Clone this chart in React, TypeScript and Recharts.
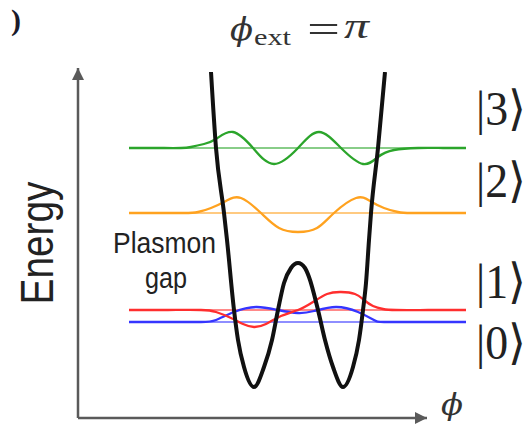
import React from 'react';
import { ComposedChart, Line, XAxis, YAxis } from 'recharts';

// phase (arbitrary units, 0 = centre of the double well) and energy (arbitrary units)
const potentialPhi = [-8.7, -8.2, -7.4, -7.1, -6.4, -6.0, -5.4, -4.4, -3.4, -2.6, -2.0, -1.4, -0.7, 0, 0.7, 1.1, 2.0, 2.7, 3.5, 4.5, 5.5, 6.1, 6.5, 6.8, 7.1, 7.3, 8.0, 8.7];
const potentialE = [34.6, 27.0, 20.5, 17.8, 10.8, 7.8, 5.1, 3.1, 5.1, 7.8, 10.8, 13.5, 15.0, 15.5, 15.0, 14.1, 10.8, 7.8, 5.1, 3.1, 5.1, 7.8, 10.8, 13.5, 17.8, 20.5, 27.0, 34.6];

const levelE = [9.6, 10.8, 20.5, 27.0]; // |0>, |1>, |2>, |3>
const levelPhi = [-16.9, 16.8];

const psi3Phi = [-16.9, -14, -11.7, -10.7, -9.4, -8.2, -6.5, -4.5, -2.4, 0, 2.1, 4.3, 6.5, 8.0, 9.6, 12.0, 14.5, 16.8];
const psi3E = [27.0, 27.0, 27.0, 27.1, 27.4, 27.9, 28.6, 27.0, 25.4, 27.0, 28.6, 27.0, 25.4, 26.1, 26.8, 27.0, 27.0, 27.0];

const psi2Phi = [-16.9, -14, -11.4, -10.0, -8.7, -7.2, -5.7, -3.7, -1.9, 0, 1.9, 3.6, 5.8, 7.2, 8.6, 10.0, 11.3, 14, 16.8];
const psi2E = [20.5, 20.5, 20.5, 20.6, 21.0, 21.7, 22.0, 20.5, 19.0, 18.6, 19.0, 20.5, 22.0, 21.7, 21.0, 20.6, 20.5, 20.5, 20.5];

const psi1Phi = [-16.9, -13, -9.7, -8.2, -6.7, -5.5, -4.4, -3.2, -1.7, 0, 1.5, 2.9, 4.3, 5.7, 6.6, 7.5, 8.5, 9.8, 13, 16.8];
const psi1E = [10.8, 10.8, 10.8, 10.6, 10.0, 9.4, 9.1, 9.4, 10.2, 10.8, 11.6, 12.4, 12.6, 12.4, 11.8, 11.2, 10.9, 10.8, 10.8, 10.8];

const psi0Phi = [-16.9, -13, -9.7, -8.2, -6.4, -4.2, -2.0, 0, 1.6, 3.8, 6.0, 7.6, 8.6, 12, 16.8];
const psi0E = [9.6, 9.6, 9.6, 9.8, 10.6, 11.1, 10.8, 10.5, 10.7, 11.1, 10.6, 9.8, 9.6, 9.6, 9.6];

const kets = ['|0⟩', '|1⟩', '|2⟩', '|3⟩'];
const colors = ['#3535ff', '#ff2e2e', '#ffa21f', '#2ba52b'];

const zip = (phi: number[], e: number[]) => phi.map((p, i) => ({ phi: p, E: e[i] }));

const potential = zip(potentialPhi, potentialE);
const waves = [zip(psi0Phi, psi0E), zip(psi1Phi, psi1E), zip(psi2Phi, psi2E), zip(psi3Phi, psi3E)];

const xAxisLine = [{ phi: -22, E: 0 }, { phi: 12.9, E: 0 }];
const yAxisLine = [{ phi: -22, E: 0 }, { phi: -22, E: 35 }];

const AXIS = '#5a5a5a';

const arrowDot = (dir: 'up' | 'right') => (p: any) => {
  const { cx, cy, index } = p;
  if (index !== 1) return <g key={`a-${dir}-${index}`} />;
  const pts =
    dir === 'up'
      ? `${cx},${cy} ${cx - 6},${cy + 12} ${cx + 6},${cy + 12}`
      : `${cx},${cy} ${cx - 12},${cy - 6} ${cx - 12},${cy + 6}`;
  return <polygon key={`a-${dir}-${index}`} points={pts} fill={AXIS} />;
};

const serif = "'Liberation Serif', 'DejaVu Serif', serif";
const phiFont = "'DejaVu Serif', serif";
const ketFont = "'Liberation Serif', 'DejaVu Serif', 'DejaVu Sans', serif";
const sans = "'Liberation Sans', Arial, sans-serif";

export default function App() {
  return (
    <div style={{ position: 'absolute', left: 0, top: 0, width: 528, height: 429, background: '#fff' }}>
      <ComposedChart width={528} height={429} margin={{ top: 68, left: 78, right: 60, bottom: 11 }}>
        <XAxis type="number" dataKey="phi" domain={[-22, 17]} hide />
        <YAxis type="number" dataKey="E" domain={[0, 35]} hide />
        <Line data={xAxisLine} dataKey="E" stroke={AXIS} strokeWidth={2.5} dot={arrowDot('right')} isAnimationActive={false} />
        <Line data={yAxisLine} dataKey="E" stroke={AXIS} strokeWidth={2.5} dot={arrowDot('up')} isAnimationActive={false} />
        {levelE.map((e, i) => (
          <Line
            key={`lvl-${i}`}
            data={levelPhi.map(p => ({ phi: p, E: e }))}
            dataKey="E"
            stroke={colors[i]}
            strokeWidth={1.4}
            strokeOpacity={0.75}
            dot={false}
            isAnimationActive={false}
          />
        ))}
        {waves.map((w, i) => (
          <Line
            key={`psi-${i}`}
            data={w}
            dataKey="E"
            type="natural"
            stroke={colors[i]}
            strokeWidth={2.3}
            dot={false}
            isAnimationActive={false}
          />
        ))}
        <Line data={potential} dataKey="E" type="monotone" stroke="#111" strokeWidth={4} dot={false} isAnimationActive={false} />
      </ComposedChart>
      <svg width={528} height={429} style={{ position: 'absolute', left: 0, top: 0, pointerEvents: 'none' }}>
        <text x={11} y={30} fontFamily={serif} fontWeight="bold" fontSize={30} fill="#1a1a2a">)</text>
        <text x={230} y={40} fontFamily={phiFont} fontStyle="italic" fontSize={32} fill="#333" textLength={23} lengthAdjust="spacingAndGlyphs">ϕ</text>
        <text x={254} y={45} fontFamily={serif} fontSize={24} fill="#333" textLength={37} lengthAdjust="spacingAndGlyphs">ext</text>
        <text x={307} y={43} fontFamily={serif} fontSize={40} fill="#333" textLength={33} lengthAdjust="spacingAndGlyphs">=</text>
        <text x={344} y={38} fontFamily={serif} fontStyle="italic" fontSize={36} fill="#333" textLength={25} lengthAdjust="spacingAndGlyphs">π</text>
        <text
          transform="translate(53,243) rotate(-90)"
          textAnchor="middle"
          fontFamily={sans}
          fontSize={47}
          fill="#222"
          textLength={123}
          lengthAdjust="spacingAndGlyphs"
        >
          Energy
        </text>
        <text x={113} y={253} fontFamily={sans} fontSize={29} fill="#222" textLength={103} lengthAdjust="spacingAndGlyphs">Plasmon</text>
        <text x={145} y={288} fontFamily={sans} fontSize={29} fill="#222" textLength={42} lengthAdjust="spacingAndGlyphs">gap</text>
        {kets.map((k, i) => (
          <text key={k} x={476} y={[359, 298, 197, 125][i]} fontFamily={ketFont} fontSize={48} fill="#222" textLength={50} lengthAdjust="spacingAndGlyphs">
            {k}
          </text>
        ))}
        <text x={441} y={415} fontFamily={phiFont} fontStyle="italic" fontSize={30} fill="#333" textLength={22} lengthAdjust="spacingAndGlyphs">ϕ</text>
      </svg>
    </div>
  );
}
